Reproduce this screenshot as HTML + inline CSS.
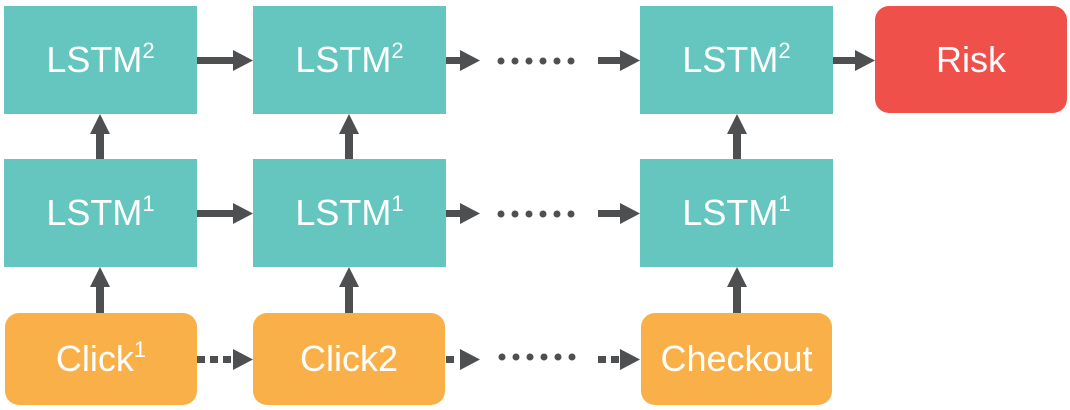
<!DOCTYPE html>
<html><head><style>
body{margin:0;width:1070px;height:410px;background:#fff;overflow:hidden;position:relative;font-family:"Liberation Sans",sans-serif}
.b{position:absolute;display:flex;align-items:center;justify-content:center;color:#fff;font-size:36px}
.t{background:#64C6BF}
.o{background:#FAB049;border-radius:14px}
.r{background:#F0504A;border-radius:14px}
sup{font-size:22px;vertical-align:14px;line-height:0}
svg{position:absolute;left:0;top:0}
</style></head><body>
<svg width="1070" height="410">
<g fill="#4d4f51" stroke="none">
<rect x="197" y="57" width="37" height="7"/><polygon points="233,50 253,60.5 233,71"/>
<rect x="446" y="57" width="15" height="7"/><polygon points="460,50 480,60.5 460,71"/>
<rect x="598" y="57" width="24" height="7"/><polygon points="620,50 640,60.5 620,71"/>
<rect x="832" y="57" width="24" height="7"/><polygon points="855,50 875,60.5 855,71"/>
<rect x="197" y="210" width="37" height="7"/><polygon points="233,203 253,213.5 233,224"/>
<rect x="446" y="210" width="15" height="7"/><polygon points="460,203 480,213.5 460,224"/>
<rect x="598" y="210" width="24" height="7"/><polygon points="620,203 640,213.5 620,224"/>
<rect x="197" y="356" width="8" height="7"/><rect x="210" y="356" width="8" height="7"/><rect x="223" y="356" width="8" height="7"/><polygon points="233,349 253,359.5 233,370"/>
<rect x="446" y="356" width="8" height="7"/><polygon points="460,349 480,359.5 460,370"/>
<rect x="598" y="356" width="8" height="7"/><rect x="611" y="356" width="8" height="7"/><polygon points="620,349 640,359.5 620,370"/>
<rect x="96" y="132" width="8" height="27"/><polygon points="90,134 100,114 110,134"/>
<rect x="96" y="285" width="8" height="28"/><polygon points="90,287 100,267 110,287"/>
<rect x="345" y="132" width="8" height="27"/><polygon points="339,134 349,114 359,134"/>
<rect x="345" y="285" width="8" height="28"/><polygon points="339,287 349,267 359,287"/>
<rect x="733" y="132" width="8" height="27"/><polygon points="727,134 737,114 747,134"/>
<rect x="733" y="285" width="8" height="28"/><polygon points="727,287 737,267 747,287"/>
<circle cx="501" cy="61" r="3.5"/><circle cx="515" cy="61" r="3.5"/><circle cx="529" cy="61" r="3.5"/><circle cx="543" cy="61" r="3.5"/><circle cx="557" cy="61" r="3.5"/><circle cx="571" cy="61" r="3.5"/>
<circle cx="501" cy="214" r="3.5"/><circle cx="515" cy="214" r="3.5"/><circle cx="529" cy="214" r="3.5"/><circle cx="543" cy="214" r="3.5"/><circle cx="557" cy="214" r="3.5"/><circle cx="571" cy="214" r="3.5"/>
<circle cx="502" cy="357" r="3.5"/><circle cx="516" cy="357" r="3.5"/><circle cx="530" cy="357" r="3.5"/><circle cx="544" cy="357" r="3.5"/><circle cx="558" cy="357" r="3.5"/><circle cx="572" cy="357" r="3.5"/>
</g>
</svg>
<div class="b t" style="left:4px;top:6px;width:193px;height:108px"><span>LSTM<sup>2</sup></span></div>
<div class="b t" style="left:253px;top:6px;width:193px;height:108px"><span>LSTM<sup>2</sup></span></div>
<div class="b t" style="left:640px;top:6px;width:193px;height:108px"><span>LSTM<sup>2</sup></span></div>
<div class="b r" style="left:875px;top:6px;width:192px;height:107px"><span>Risk</span></div>
<div class="b t" style="left:4px;top:159px;width:193px;height:108px"><span>LSTM<sup>1</sup></span></div>
<div class="b t" style="left:253px;top:159px;width:193px;height:108px"><span>LSTM<sup>1</sup></span></div>
<div class="b t" style="left:640px;top:159px;width:193px;height:108px"><span>LSTM<sup>1</sup></span></div>
<div class="b o" style="left:5px;top:313px;width:192px;height:92px"><span>Click<sup>1</sup></span></div>
<div class="b o" style="left:253px;top:313px;width:192px;height:92px"><span>Click2</span></div>
<div class="b o" style="left:641px;top:313px;width:191px;height:92px"><span>Checkout</span></div>
</body></html>
